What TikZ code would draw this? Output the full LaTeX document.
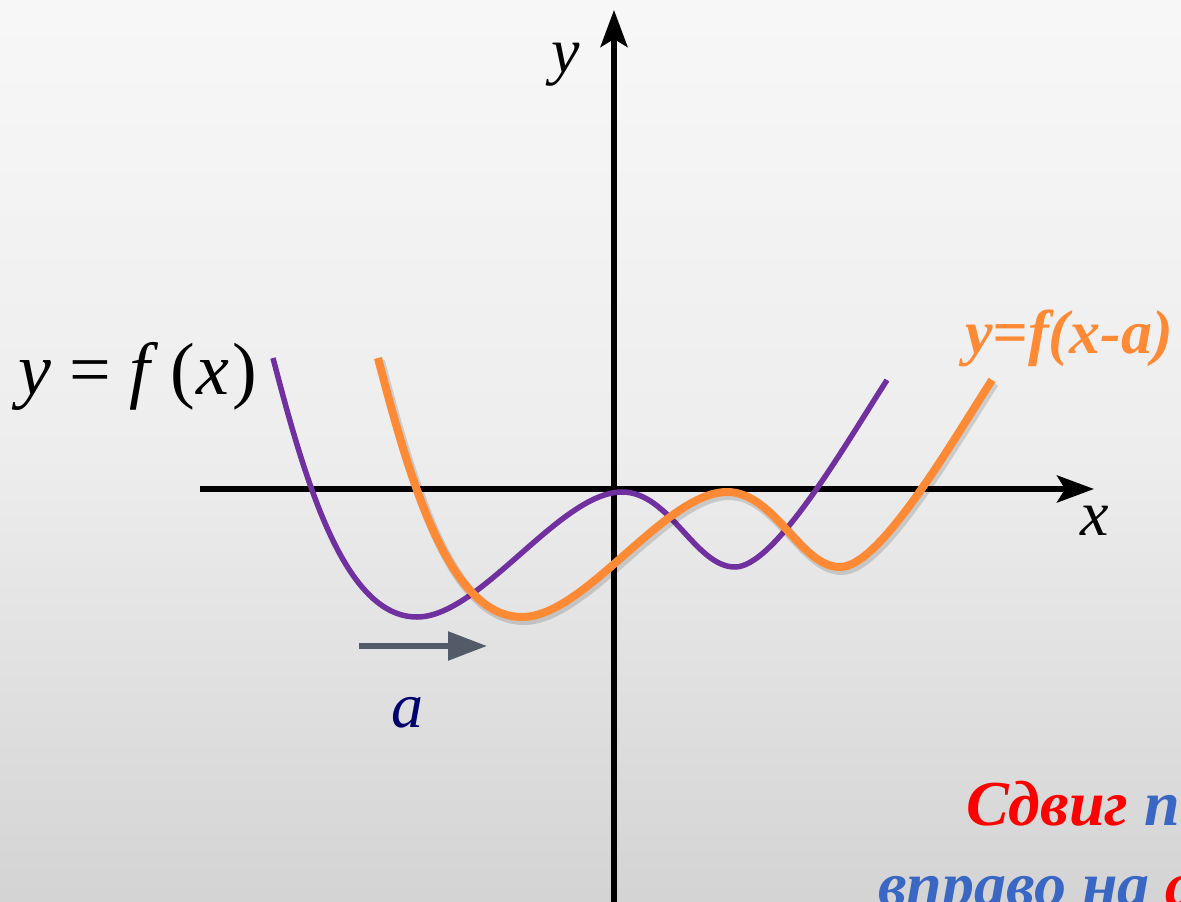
\documentclass[tikz,border=0pt]{standalone}
\usepackage{fontspec}
\setmainfont{Liberation Serif}
\usepackage{tikz}
\usetikzlibrary{arrows.meta}
\definecolor{shpurple}{HTML}{7030A0}
\definecolor{shorange}{HTML}{FF8A36}
\definecolor{shslate}{HTML}{535B69}
\definecolor{shnavy}{HTML}{000070}
\definecolor{shblue}{HTML}{3B67C4}
\tikzset{
  shaxis/.style={line width=5.5pt, -{Stealth[length=37pt, width=27pt, inset=8pt]}},
  shorig/.style={draw=shpurple, line width=5.5pt},
  shmoved/.style={draw=shorange, line width=8pt,
    preaction={draw=black, opacity=0.14, line width=10pt,
      transform canvas={shift={(2pt,-3pt)}}}},
  shshift/.style={draw=shslate, line width=5.5pt, -{Triangle[length=39pt, width=28pt]}},
  shlabel/.style={font=\fontsize{64}{70}\selectfont\itshape, inner sep=0pt},
  shnote/.style={font=\fontsize{64}{70}\selectfont\bfseries\itshape, inner sep=0pt}
}
\begin{document}
\begin{tikzpicture}[x=1pt, y=-1pt]
  \useasboundingbox (0,0) rectangle (1181,902);
  \shade[top color=black!3, bottom color=black!17, middle color=black!7] (0,0) rectangle (1181,902);
  \clip (0,0) rectangle (1181,902);
  % axes
  \coordinate (o) at (614,489);
  \coordinate (ybot) at (614,902);
  \coordinate (ytop) at (614,10);
  \coordinate (xleft) at (200,489);
  \coordinate (xright) at (1094,489);
  \draw[shaxis] (ybot) -- (ytop);
  \draw[shaxis] (xleft) -- (xright);
  \node[shlabel, anchor=base] (ylabel) at (566,72) {y};
  \node[shlabel, anchor=base] (xlabel) at (1095,535) {x};
  % y = f(x) and its copy moved by a
  \foreach \dx/\sty in {0/shorig, 105/shmoved} {
    \draw[\sty, xshift=\dx] (273,358) .. controls (306,485) and (345,617) .. (417,617)
      .. controls (480,617) and (560,492) .. (622,492)
      .. controls (670,492) and (695,567) .. (735,567)
      .. controls (775,567) and (845,445) .. (887,380);
  }
  \node[shlabel, anchor=base west, font=\fontsize{74}{80}\selectfont\itshape] (flabel) at (18,394)
    {y\hspace{18pt}\upshape=\hspace{19pt}\itshape f\hspace{20pt}\upshape(\kern2pt\itshape x\kern3pt\upshape)};
  \node[shnote, text=shorange, anchor=base west, font=\fontsize{62}{68}\selectfont\bfseries\itshape] (glabel) at (965,353) {y=f(x-a)};
  % shift
  \coordinate (ashift0) at (359,646);
  \coordinate (ashift1) at (487,646);
  \draw[shshift] (ashift0) -- (ashift1);
  \node[shlabel, text=shnavy, anchor=base] (alabel) at (407,727) {a};
  \node[shnote, anchor=base west] (note1) at (966,825)
    {\textcolor{red}{Сдвиг} \textcolor{shblue}{по}};
  \node[shnote, anchor=base west] (note2) at (878,906)
    {\textcolor{shblue}{вправо на} \textcolor{red}{a}};
\end{tikzpicture}
\end{document}
